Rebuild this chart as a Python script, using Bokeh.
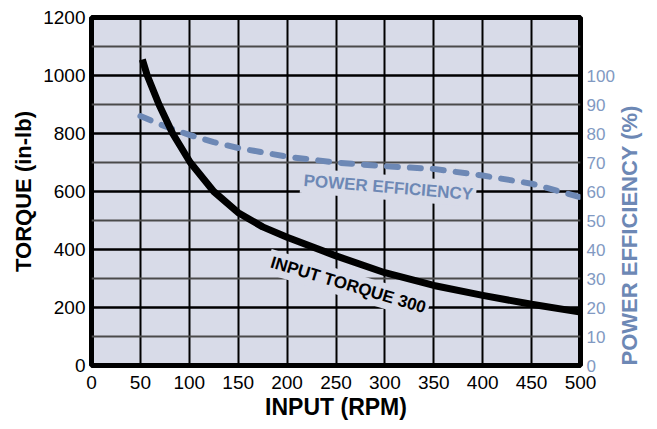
import math
from bokeh.plotting import figure
from bokeh.models import Range1d, LinearAxis, FixedTicker, Label
from bokeh.embed import file_html
from bokeh.resources import INLINE

# ---- data ----
rpm = [52, 57, 69, 83, 101, 125, 150, 175, 200, 250, 300, 350, 400, 450, 500]
torque = [1055, 1000, 900, 800, 700, 600, 527, 478, 442, 378, 320, 276, 242, 211, 184]
eff_rpm = [50, 75, 100, 125, 150, 200, 250, 300, 350, 400, 450, 500]
efficiency = [86, 82.5, 79.5, 77, 75, 72, 70, 68.7, 67.8, 65.5, 62.7, 58]
x_ticks = [0, 50, 100, 150, 200, 250, 300, 350, 400, 450, 500]
torque_ticks = [0, 200, 400, 600, 800, 1000, 1200]
torque_minor = [100, 300, 500, 700, 900, 1100]
eff_ticks = [0, 10, 20, 30, 40, 50, 60, 70, 80, 90, 100]

FONT = "Liberation Sans"
BG = "#d8dbe8"
BLUE = "#6d88b5"
BLUE_LT = "#8199c2"

p = figure(frame_width=489, frame_height=348,
           x_range=Range1d(0, 500), y_range=Range1d(0, 1200),
           output_backend="svg", toolbar_location=None,
           min_border_left=91, min_border_right=69, min_border_top=17, min_border_bottom=60,
           background_fill_color=BG, border_fill_color="white",
           outline_line_color="black", outline_line_width=5)
p.extra_y_ranges = {"eff": Range1d(0, 120)}

# grids
p.xgrid.ticker = FixedTicker(ticks=x_ticks)
p.xgrid.grid_line_color = "black"
p.xgrid.grid_line_width = 2
p.ygrid.ticker = FixedTicker(ticks=torque_ticks, minor_ticks=torque_minor)
p.ygrid.grid_line_color = "black"
p.ygrid.grid_line_width = 2.5
p.ygrid.minor_grid_line_color = "#4a4a4a"
p.ygrid.minor_grid_line_width = 2

# x axis
xa = p.xaxis[0]
xa.ticker = FixedTicker(ticks=x_ticks)
xa.axis_label = "INPUT (RPM)"

# left axis
ya = p.yaxis[0]
ya.ticker = FixedTicker(ticks=torque_ticks)
ya.axis_label = "TORQUE (in-lb)"

# right axis
ra = LinearAxis(y_range_name="eff", ticker=FixedTicker(ticks=eff_ticks),
                axis_label="POWER EFFICIENCY (%)")
p.add_layout(ra, "right")

for ax in (xa, ya, ra):
    ax.axis_line_color = None
    ax.major_tick_line_color = None
    ax.minor_tick_line_color = None
    ax.major_tick_out = 0
    ax.major_tick_in = 0
    ax.minor_tick_out = 0
    ax.minor_tick_in = 0
    ax.major_label_text_font = FONT
    ax.axis_label_text_font = FONT
    ax.axis_label_text_font_style = "bold"
    ax.axis_label_text_font_size = "22px"

xa.major_label_text_font_size = "19px"
xa.major_label_text_color = "black"
xa.major_label_standoff = 10
xa.axis_label_standoff = 2
xa.axis_label_text_font_size = "23px"
xa.axis_label_text_color = "black"

ya.major_label_text_font_size = "19px"
ya.major_label_text_color = "black"
ya.major_label_standoff = 6
ya.axis_label_standoff = 4
ya.axis_label_text_color = "black"

ra.major_label_text_font_size = "17px"
ra.major_label_text_color = BLUE_LT
ra.major_label_standoff = 6
ra.axis_label_standoff = 12
ra.axis_label_text_color = BLUE
ra.axis_label_orientation = math.pi / 2
try:
    ra.axis_label_align = "start"
except Exception:
    pass

# series
p.line(eff_rpm, efficiency, y_range_name="eff", line_color=BLUE, line_width=6,
       line_dash="11 12", line_cap="round")
p.line(rpm, torque, line_color="black", line_width=7, line_join="round")

# in-plot labels
p.add_layout(Label(x=303.6, y=614, text="POWER EFFICIENCY", angle=-0.082,
                   text_align="center", text_baseline="middle",
                   text_font=FONT, text_font_style="bold", text_font_size="17px",
                   text_color=BLUE, background_fill_color=BG, padding=3))
p.add_layout(Label(x=262.5, y=277.6, text="INPUT TORQUE 300", angle=-0.29,
                   text_align="center", text_baseline="middle",
                   text_font=FONT, text_font_style="bold", text_font_size="17px",
                   text_color="black", background_fill_color=BG, padding=3))

open("out.html", "w").write(file_html(p, INLINE))
